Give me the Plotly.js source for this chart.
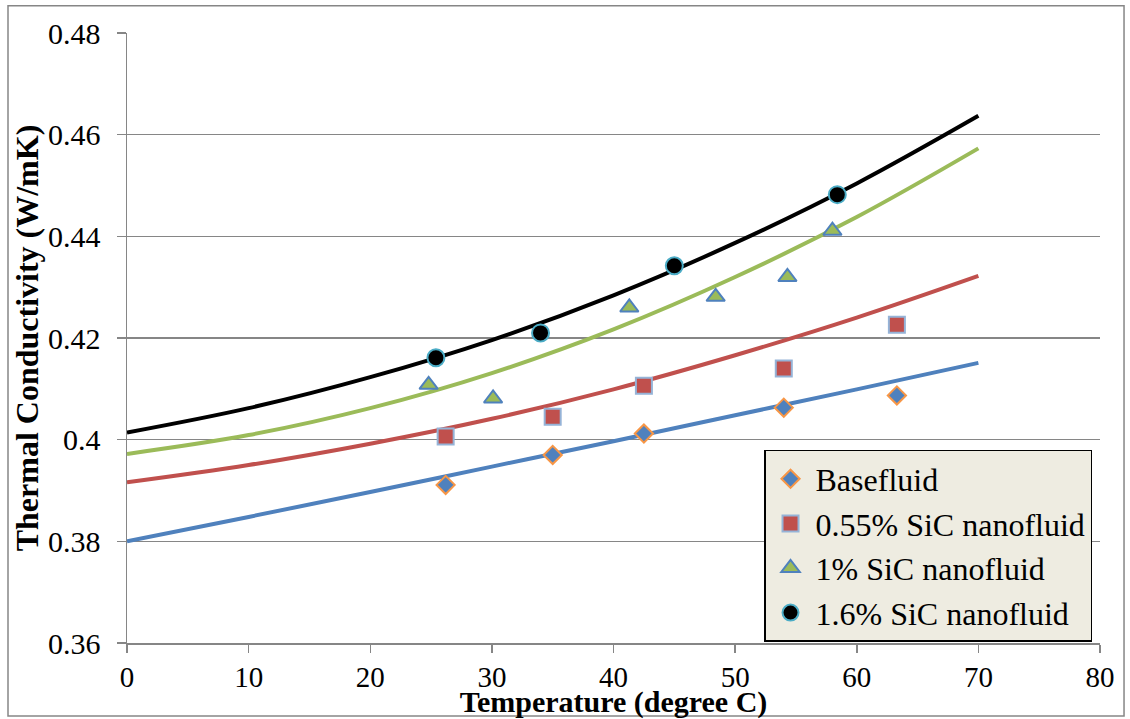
<!DOCTYPE html>
<html>
<head>
<meta charset="utf-8">
<script src="https://cdn.plot.ly/plotly-3.0.1.min.js"></script>
<style>html,body{margin:0;padding:0;background:#fff;}#chart{width:1130px;height:719px;}</style>
</head>
<body>
<div id="chart"></div>
<script>
// Measured data points (Temperature in degree C, Thermal conductivity W/mK)
const baseX = [26.2, 35.0, 42.5, 54.0, 63.3];
const baseY = [0.3911, 0.3970, 0.4012, 0.4063, 0.4087];
const sic055X = [26.2, 35.0, 42.5, 54.0, 63.3];
const sic055Y = [0.4006, 0.4045, 0.4106, 0.4140, 0.4226];
const sic1X = [24.8, 30.1, 41.3, 48.4, 54.3, 58.0];
const sic1Y = [0.4108, 0.4081, 0.4260, 0.4281, 0.4320, 0.4411];
const sic16X = [25.4, 34.0, 45.0, 58.4];
const sic16Y = [0.4161, 0.4210, 0.4342, 0.4482];

// Trendlines at 0,10,...,70
const trendX = [0, 10, 20, 30, 40, 50, 60, 70];
const trendBase = [0.3800, 0.3848, 0.3897, 0.3947, 0.3997, 0.4048, 0.4099, 0.4151];
const trend055 = [0.3916, 0.3950, 0.3992, 0.4041, 0.4099, 0.4166, 0.4240, 0.4322];
const trend1 = [0.3972, 0.4009, 0.4062, 0.4131, 0.4217, 0.4320, 0.4438, 0.4573];
const trend16 = [0.4014, 0.4062, 0.4123, 0.4196, 0.4284, 0.4387, 0.4504, 0.4637];

const seriesNames = ['Basefluid', '0.55% SiC nanofluid', '1% SiC nanofluid', '1.6% SiC nanofluid'];
const xTicks = [0, 10, 20, 30, 40, 50, 60, 70, 80];

const FONT = '"Liberation Serif", "Times New Roman", Times, serif';

function trend(y, color) {
  return {x: trendX, y: y, type: 'scatter', mode: 'lines', showlegend: false, hoverinfo: 'skip',
          line: {color: color, width: 4, shape: 'spline', smoothing: 1}};
}
function pts(x, y, name, symbol, fill, border, size, grp) {
  return {x: x, y: y, type: 'scatter', mode: 'markers', name: name, legendgroup: grp,
          marker: {symbol: symbol, color: fill, size: size, line: {color: border, width: 2}}};
}

const data = [
  trend(trendBase, '#4F81BD'),
  trend(trend055, '#C0504D'),
  trend(trend1, '#9BBB59'),
  trend(trend16, '#000000'),
  pts(baseX, baseY, seriesNames[0], 'diamond', '#4F81BD', '#F79646', 14, 'g1'),
  pts(sic055X, sic055Y, seriesNames[1], 'square', '#C0504D', '#95B3D7', 16, 'g2'),
  pts(sic1X, sic1Y, seriesNames[2], 'triangle-up', '#9BBB59', '#4F81BD', 16, 'g3'),
  pts(sic16X, sic16Y, seriesNames[3], 'circle', '#000000', '#4BACC6', 17, 'g4')
];

const layout = {
  width: 1130, height: 719,
  margin: {l: 127, r: 30, t: 33, b: 76},
  paper_bgcolor: '#ffffff', plot_bgcolor: '#ffffff',
  font: {family: FONT, size: 30, color: '#000'},
  showlegend: true,
  xaxis: {
    range: [0, 80], tickvals: xTicks, ticktext: xTicks.map(String),
    showgrid: false, zeroline: false, showline: true, linecolor: '#868686', linewidth: 1.5,
    ticks: 'outside', ticklen: 8, tickcolor: '#868686', tickwidth: 1.5,
    tickfont: {family: FONT, size: 29},
    title: {text: '<b>Temperature (degree C)</b>', font: {family: FONT, size: 30}, standoff: 6}
  },
  yaxis: {
    range: [0.36, 0.48], dtick: 0.02, tick0: 0.36,
    showgrid: true, gridcolor: '#868686', gridwidth: 1.5,
    zeroline: false, showline: true, linecolor: '#868686', linewidth: 1.5,
    ticks: 'outside', ticklen: 9, tickcolor: '#868686', tickwidth: 1.5,
    ticklabelstandoff: 10,
    tickfont: {family: FONT, size: 30},
    title: {text: '<b>Thermal Conductivity (W/mK)</b>', font: {family: FONT, size: 32}, standoff: 0}
  },
  legend: {
    x: 0.6547, y: 0.3164, xanchor: 'left', yanchor: 'top',
    bgcolor: '#EEECE1', bordercolor: '#000000', borderwidth: 1.5,
    font: {family: FONT, size: 32}, traceorder: 'grouped', tracegroupgap: 0,
    itemwidth: 40
  },
  shapes: [{
    type: 'rect', xref: 'paper', yref: 'paper',
    x0: -0.1223, x1: 1.0247, y0: -0.1197, y1: 1.0447,
    line: {color: '#868686', width: 1.5}, fillcolor: 'rgba(0,0,0,0)', layer: 'below'
  }]
};

Plotly.newPlot('chart', data, layout, {displayModeBar: false, staticPlot: true});
</script>
</body>
</html>
